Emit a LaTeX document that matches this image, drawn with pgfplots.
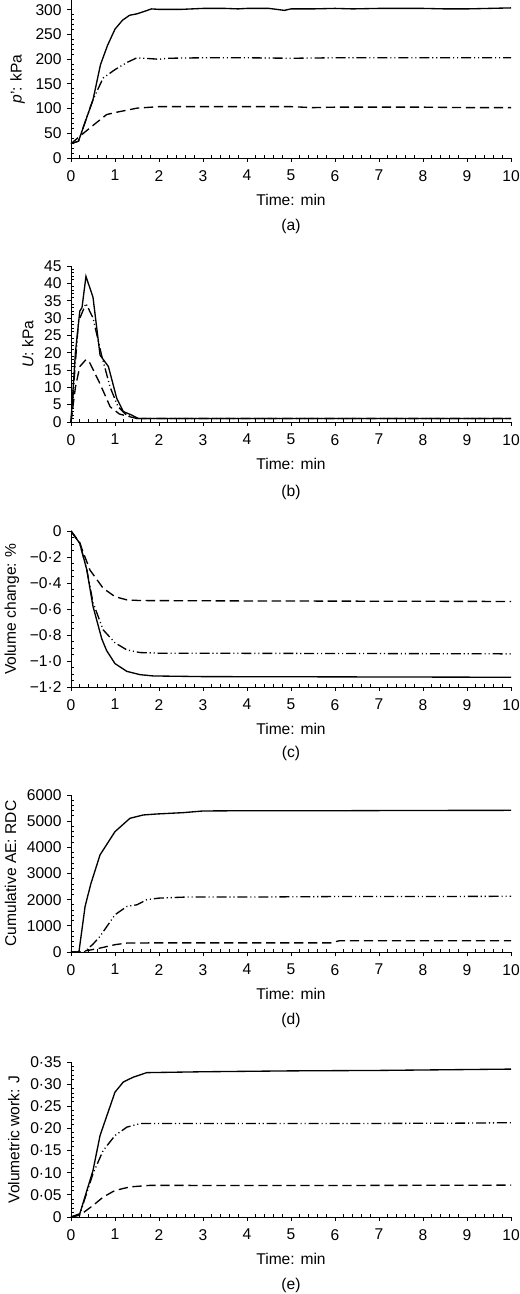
\documentclass[border=0pt]{standalone}
\usepackage{fontspec}
\setmainfont{Liberation Sans}
\usepackage{pgfplots}
\pgfplotsset{compat=1.18}
\pgfplotsset{
  panel/.style={
    scale only axis, width=330pt, height=117pt,
    xmin=0, xmax=10, xtick={0,1,...,10},
    minor x tick num=4,
    axis x line*=bottom, axis y line*=left,
    tick align=outside, major tick length=3pt, minor tick length=2pt,
    minor x tick style={yshift=2pt}, minor y tick style={xshift=2pt},
    tick style={black, line width=0.7pt},
    axis line style={black, line width=0.7pt},
    /pgf/number format/assume math mode=true,
    /pgf/number format/1000 sep={},
    font=\fontsize{11.7}{13}\selectfont,
    xlabel={Time: min},
    xlabel style={at={(axis description cs:0.5,0)}, anchor=center, yshift=-31.5pt},
    xticklabel style={yshift=-2pt},
    clip=false,
  },
  sol/.style={black, line width=1pt},
  dsh/.style={black, line width=1pt, dash pattern=on 7pt off 3.5pt},
  ddd/.style={black, line width=1pt, dash pattern=on 7.5pt off 2.2pt on 0.8pt off 2.2pt on 0.8pt off 2.2pt},
}
\begin{document}
\fontsize{11.7}{13}\selectfont
\begin{tikzpicture}
\useasboundingbox (-53.25pt,0pt) rectangle (336.75pt,-970.5pt);
% (a)
\begin{axis}[panel, name=pa, at={(0pt,-118.5pt)}, anchor=south west, height=118.5pt,
  ymin=0, ymax=320, ytick={0,50,...,300}, minor y tick num=4,
  ylabel={\textit{p}': kPa}]
\addplot[sol] coordinates {(0,29)(0.17,34)(0.33,75)(0.5,118)(0.67,189)(0.83,228)(1,261)(1.17,279)(1.33,289)(1.5,292)(1.67,297)(1.83,302)(2,301)(2.5,301)(3,303)(3.5,303)(3.8,302)(4,303)(4.5,303)(4.85,299)(5,302)(5.5,302)(6,303)(6.4,302)(7,303)(8,303)(8.5,302)(9,302)(10,304)};
\addplot[ddd] coordinates {(0,29)(0.17,34)(0.33,75)(0.5,118)(0.73,162)(1,179)(1.26,193)(1.5,203)(2,200)(2.2,202)(3,203)(4,203)(5,202)(6,203)(7,203)(8,203)(9,203)(10,203)};
\addplot[dsh] coordinates {(0,29)(0.2,44)(0.5,66)(0.81,88)(1,92)(1.5,101)(2,104)(3,104)(4,104)(5,104)(5.5,102)(6,103)(7,103)(8,103)(9,102)(10,102)};
\end{axis}
\node at ([yshift=-51pt]pa.south) {(a)};
% (b)
\begin{axis}[panel, name=pb, at={(0pt,-316.5pt)}, anchor=south west,
  ymin=0, ymax=45, ytick={0,5,...,45}, minor y tick num=4,
  ylabel={\textit{U}: kPa}]
\addplot[sol] coordinates {(0,0)(0.1,20)(0.2,32)(0.25,33)(0.34,42)(0.5,36)(0.66,19.3)(0.85,16)(1.04,6.8)(1.19,3)(1.38,2)(1.53,1)(2,1)(10,1)};
\addplot[ddd] coordinates {(0,0)(0.17,29)(0.34,34.2)(0.5,30)(0.7,19)(0.89,10)(1.07,4.4)(1.26,2)(1.5,1)(10,1)};
\addplot[dsh] coordinates {(0,0)(0.1,10)(0.2,16)(0.34,18)(0.43,17)(0.66,11)(0.89,4.4)(1.1,2.3)(1.34,1.5)(1.5,1)(10,1)};
\end{axis}
\node at ([yshift=-53pt]pb.south) {(b)};
% (c)
\begin{axis}[panel, name=pc, at={(0pt,-515.25pt)}, anchor=south west,
  ymin=-1.2, ymax=0, ytick={-1.2,-1.0,-0.8,-0.6,-0.4,-0.2,0},
  yticklabels={−1·2,−1·0,−0·8,−0·6,−0·4,−0·2,0}, minor y tick num=3,
  ylabel={Volume change: \%}]
\addplot[sol] coordinates {(0,0)(0.2,-0.095)(0.36,-0.3)(0.5,-0.58)(0.7,-0.83)(0.81,-0.92)(1,-1.02)(1.27,-1.08)(1.57,-1.105)(1.87,-1.115)(3,-1.12)(6,-1.122)(10,-1.125)};
\addplot[ddd] coordinates {(0,0)(0.2,-0.095)(0.36,-0.3)(0.5,-0.55)(0.73,-0.76)(1,-0.86)(1.27,-0.915)(1.57,-0.935)(2,-0.94)(6,-0.942)(10,-0.945)};
\addplot[dsh] coordinates {(0,0)(0.2,-0.09)(0.24,-0.13)(0.43,-0.3)(0.73,-0.44)(1,-0.505)(1.27,-0.53)(1.57,-0.535)(4,-0.538)(10,-0.542)};
\end{axis}
\node at ([yshift=-49.5pt]pc.south) {(c)};
% (d)
\begin{axis}[panel, name=pd, at={(0pt,-714pt)}, anchor=south west, height=117.75pt,
  ymin=0, ymax=6000, ytick={0,1000,...,6000}, minor y tick num=4,
  scaled y ticks=false,
  ylabel={Cumulative AE: RDC}]
\addplot[sol] coordinates {(0,0)(0.18,0)(0.32,1741)(0.45,2600)(0.66,3712)(1,4601)(1.34,5110)(1.64,5237)(1.95,5275)(2.55,5326)(3,5390)(4,5400)(6,5400)(8,5410)(10,5415)};
\addplot[ddd] coordinates {(0,0)(0.3,0)(0.5,300)(0.66,600)(1,1424)(1.27,1741)(1.5,1805)(1.72,2000)(2,2060)(2.6,2100)(4,2100)(6,2120)(8,2120)(10,2130)};
\addplot[dsh] coordinates {(0,0)(0.2,0)(0.66,150)(1,280)(1.27,343)(2,350)(5.9,350)(6.1,430)(10,432)};
\end{axis}
\node at ([yshift=-51pt]pd.south) {(d)};
% (e)
\begin{axis}[panel, name=pe, at={(0pt,-912.75pt)}, anchor=south west, height=116.25pt,
  ymin=0, ymax=0.35, ytick={0,0.05,0.10,0.15,0.20,0.25,0.30,0.35},
  yticklabels={0,0·05,0·10,0·15,0·20,0·25,0·30,0·35}, minor y tick num=4,
  ylabel={Volumetric work: J}]
\addplot[sol] coordinates {(0,0)(0.2,0.0075)(0.5,0.105)(0.66,0.184)(1,0.282)(1.19,0.305)(1.42,0.316)(1.72,0.326)(3,0.328)(5,0.330)(7,0.331)(10,0.334)};
\addplot[ddd] coordinates {(0,0)(0.2,0.006)(0.5,0.098)(0.73,0.15)(1,0.184)(1.27,0.203)(1.57,0.211)(3,0.211)(6,0.211)(9,0.212)(10,0.213)};
\addplot[dsh] coordinates {(0,0)(0.2,0.004)(0.5,0.026)(0.73,0.045)(1,0.060)(1.34,0.068)(1.8,0.0715)(5,0.071)(10,0.072)};
\end{axis}
\node at ([yshift=-51pt]pe.south) {(e)};
\end{tikzpicture}
\end{document}
